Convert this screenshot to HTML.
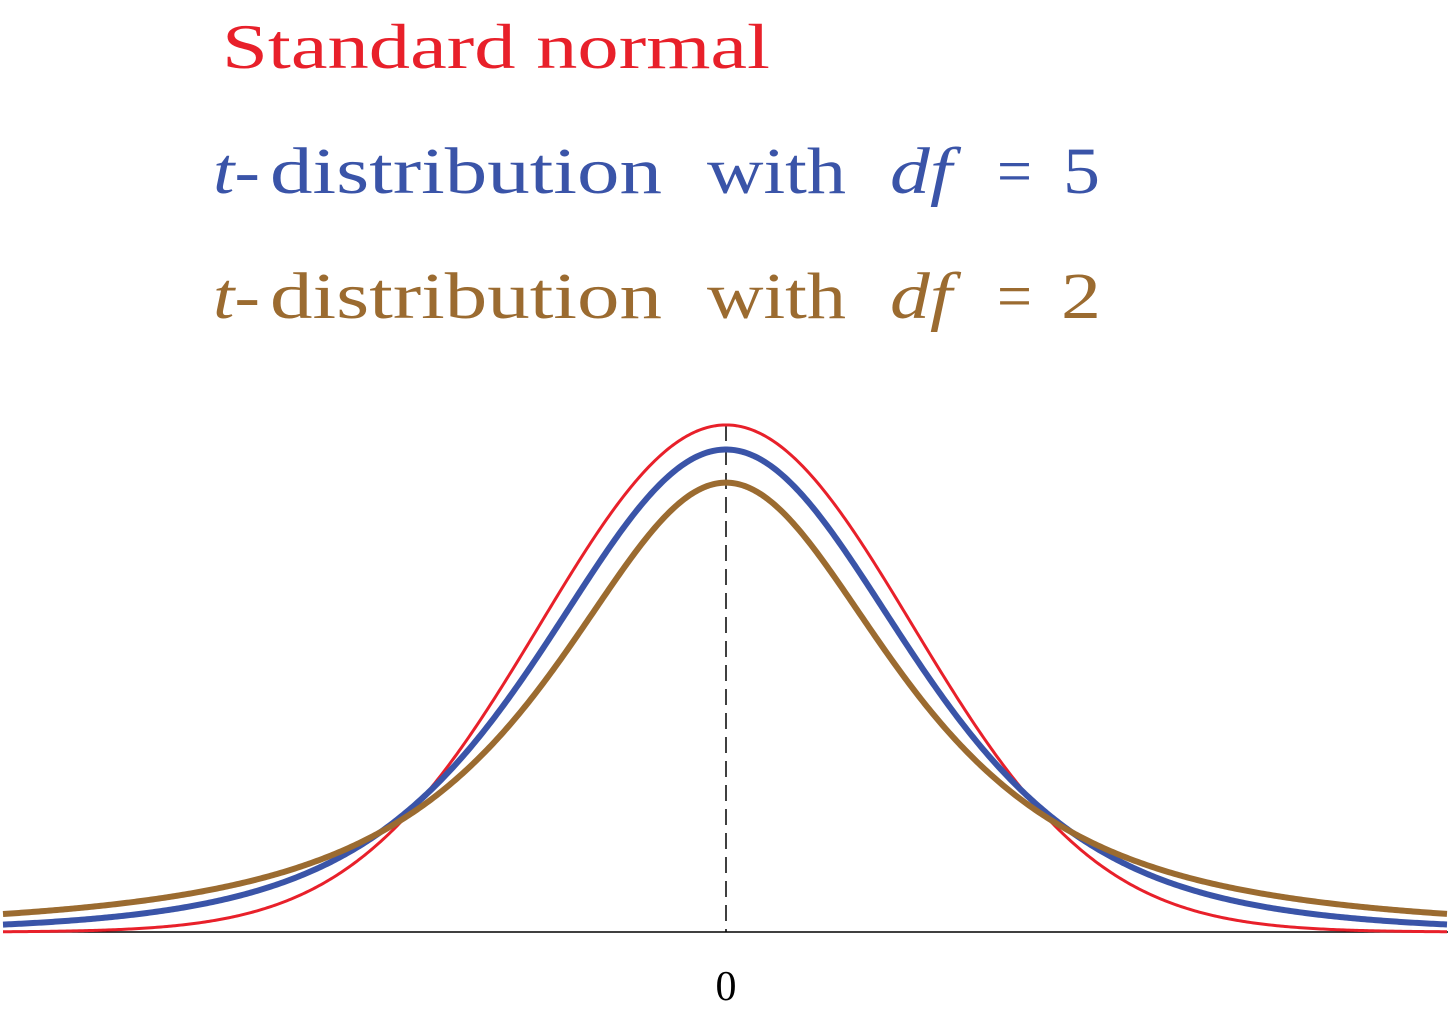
<!DOCTYPE html>
<html><head><meta charset="utf-8"><style>
html,body{margin:0;padding:0;background:#fff;}
svg{display:block;}
text{font-family:"Liberation Serif",serif;}
</style></head><body>
<svg id="s" width="1451" height="1013" viewBox="0 0 1451 1013" xmlns="http://www.w3.org/2000/svg">
<text x="222" y="68" font-size="64" fill="#e8202a" textLength="548" lengthAdjust="spacingAndGlyphs">Standard normal</text>
<g font-size="66" fill="#3a54a8">
<text x="213" y="193" font-style="italic" textLength="47" lengthAdjust="spacingAndGlyphs">t-</text>
<text x="270" y="193" textLength="392" lengthAdjust="spacingAndGlyphs">distribution</text>
<text x="707" y="193" textLength="139" lengthAdjust="spacingAndGlyphs">with</text>
<text x="890" y="193" font-style="italic" textLength="62" lengthAdjust="spacingAndGlyphs">df</text>
<text x="997" y="193" textLength="35" lengthAdjust="spacingAndGlyphs">=</text>
<text x="1063" y="193" textLength="37" lengthAdjust="spacingAndGlyphs">5</text>
</g>
<g font-size="66" fill="#9b6b30">
<text x="213" y="318" font-style="italic" textLength="47" lengthAdjust="spacingAndGlyphs">t-</text>
<text x="270" y="318" textLength="392" lengthAdjust="spacingAndGlyphs">distribution</text>
<text x="707" y="318" textLength="139" lengthAdjust="spacingAndGlyphs">with</text>
<text x="890" y="318" font-style="italic" textLength="62" lengthAdjust="spacingAndGlyphs">df</text>
<text x="997" y="318" textLength="35" lengthAdjust="spacingAndGlyphs">=</text>
<text x="1061" y="318" textLength="40" lengthAdjust="spacingAndGlyphs">2</text>
</g>
<line x1="3" y1="932" x2="1448" y2="932" stroke="#000" stroke-width="1.5"/>
<line x1="726" y1="425" x2="726" y2="932" stroke="#000" stroke-width="1.5" stroke-dasharray="16,8"/>
<text x="726" y="1000" font-size="42" text-anchor="middle" fill="#000">0</text>
<path id="r" fill="none" stroke="#e8202a" stroke-width="3"/>
<path id="b" fill="none" stroke="#3a54a8" stroke-width="6"/>
<path id="w" fill="none" stroke="#9b6b30" stroke-width="6"/>
</svg>
<script>
var cx=726,sx=186,sy=1271,base=932;
function mk(f){var d="";for(var px=3;px<=1448;px+=2){var x=(px-cx)/sx;d+=(d?"L":"M")+px+","+(base-f(x)*sy).toFixed(2);}return d;}
document.getElementById("r").setAttribute("d",mk(function(x){return Math.exp(-x*x/2)/Math.sqrt(2*Math.PI);}));
document.getElementById("b").setAttribute("d",mk(function(x){return 0.3796*Math.pow(1+x*x/5,-3);}));
document.getElementById("w").setAttribute("d",mk(function(x){return 0.35355*Math.pow(1+x*x/2,-1.5);}));
</script>
</body></html>
